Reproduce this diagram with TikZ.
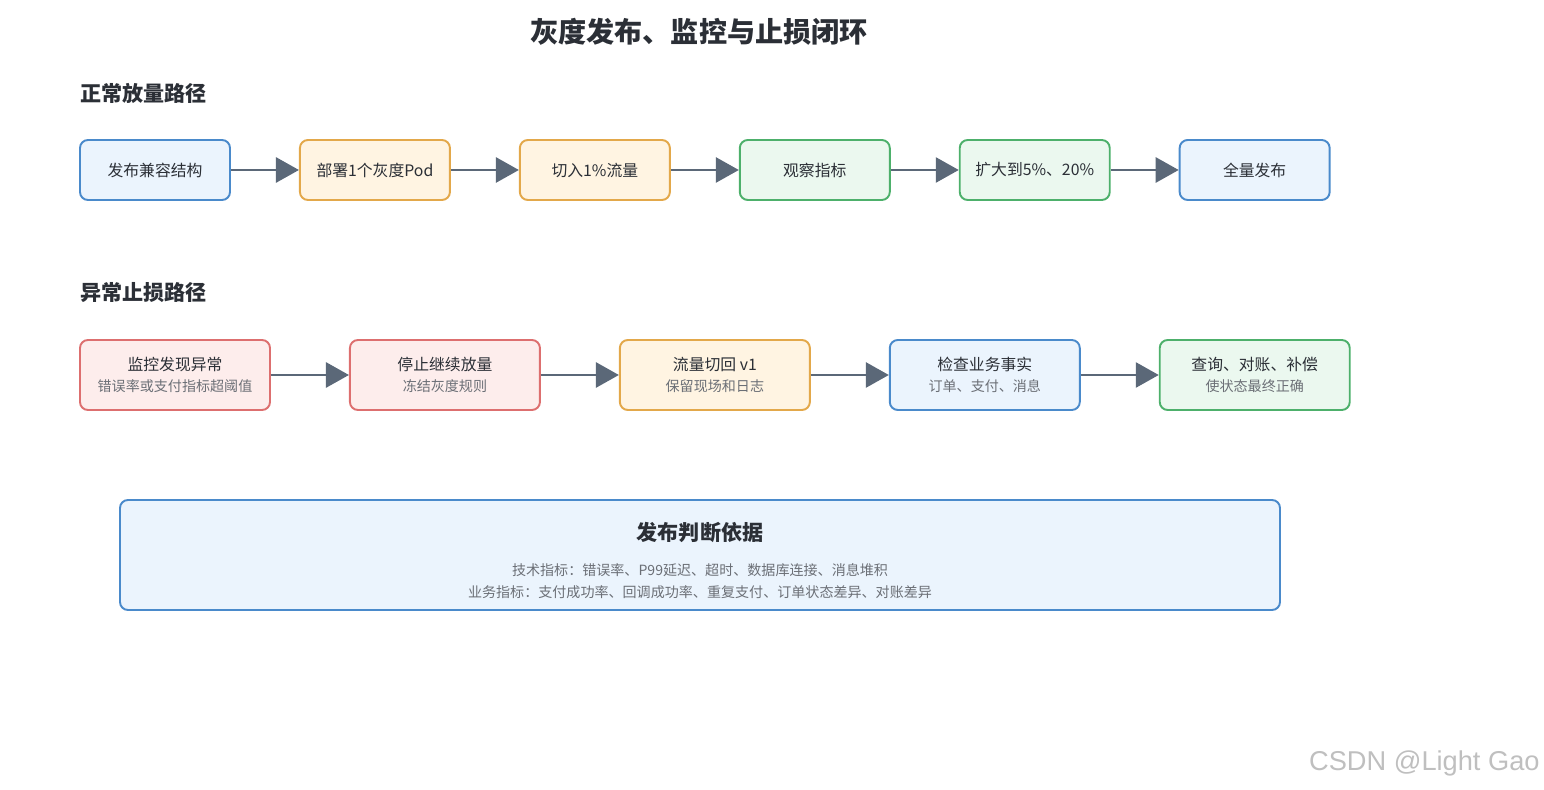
\documentclass[tikz,border=0pt]{standalone}
\usepackage{fontspec}
\setmainfont{Noto Sans CJK SC}
\newfontfamily\wmfont{Liberation Sans}
\usepackage{tikz}
\usetikzlibrary{positioning}
\usetikzlibrary{arrows.meta}
\definecolor{blueline}{HTML}{4A8ACB}
\definecolor{bluefill}{HTML}{EBF4FD}
\definecolor{orangeline}{HTML}{E3A84A}
\definecolor{orangefill}{HTML}{FFF4E2}
\definecolor{greenline}{HTML}{4DB06B}
\definecolor{greenfill}{HTML}{EBF8EF}
\definecolor{redline}{HTML}{DD6F6F}
\definecolor{redfill}{HTML}{FDEDEC}
\definecolor{arrowgray}{HTML}{5B6878}
\definecolor{textdark}{HTML}{2B2F36}
\definecolor{textsub}{HTML}{6B6F76}
\tikzset{
  blue box/.style={draw=blueline,fill=bluefill},
  orange box/.style={draw=orangeline,fill=orangefill},
  green box/.style={draw=greenline,fill=greenfill},
  red box/.style={draw=redline,fill=redfill},
  sub/.style={text=textsub,font=\fontsize{8}{10}\selectfont},
}
\newcommand{\twolines}[2]{#1\\[1pt]{\color{textsub}\fontsize{8}{9}\selectfont #2}}

\begin{document}
\begin{tikzpicture}[text=textdark]
	\useasboundingbox (0,0) rectangle (30.88,-15.8);

	% titles
	\node (title) at (13.98,-0.64) {\fontsize{16}{18}\selectfont\bfseries 灰度发布、监控与止损闭环};
	\node[anchor=west,inner sep=0] (normal) at (1.6,-1.86) {\fontsize{12}{14}\selectfont\bfseries 正常放量路径};
	\node[anchor=west,inner sep=0] (abnormal) at (1.6,-5.86) {\fontsize{12}{14}\selectfont\bfseries 异常止损路径};

	% normal path
	\begin{scope}[every node/.style={rectangle,rounded corners=0.16cm,line width=1.1pt,
	              minimum width=3cm, minimum height=1.2cm,
	              font=\fontsize{9}{11}\selectfont}, node distance=1.36cm]
	    \node[blue box] (deploy) at (3.1,-3.4) {发布兼容结构};
	    \node[orange box] (pod) [right=of deploy] {部署1个灰度Pod};
	    \node[orange box] (cut) [right=of pod] {切入1\%流量};
	    \node[green box] (watch) [right=of cut] {观察指标};
	    \node[green box] (expand) [right=of watch] {扩大到5\%、20\%};
	    \node[blue box] (full) [right=of expand] {全量发布};
	\end{scope}

	% abnormal path
	\begin{scope}[every node/.style={rectangle,rounded corners=0.16cm,line width=1.1pt,
	              minimum width=3.8cm, minimum height=1.4cm, align=center,
	              font=\fontsize{9}{11}\selectfont}, node distance=1.56cm]
	    \node[red box] (alarm) at (3.5,-7.5) {\twolines{监控发现异常}{错误率或支付指标超阈值}};
	    \node[red box] (stop) [right=of alarm] {\twolines{停止继续放量}{冻结灰度规则}};
	    \node[orange box] (back) [right=of stop] {\twolines{流量切回 v1}{保留现场和日志}};
	    \node[blue box] (check) [right=of back] {\twolines{检查业务事实}{订单、支付、消息}};
	    \node[green box] (fix) [right=of check] {\twolines{查询、对账、补偿}{使状态最终正确}};
	\end{scope}

	\begin{scope}[>={Triangle[length=0.46cm,width=0.5cm]},
	              every edge/.style={draw=arrowgray,line width=1.6pt}]
	    \path [->] (deploy) edge (pod);
	    \path [->] (pod) edge (cut);
	    \path [->] (cut) edge (watch);
	    \path [->] (watch) edge (expand);
	    \path [->] (expand) edge (full);
	    \path [->] (alarm) edge (stop);
	    \path [->] (stop) edge (back);
	    \path [->] (back) edge (check);
	    \path [->] (check) edge (fix);
	\end{scope}

	% decision basis
	\node[blue box,rectangle,rounded corners=0.16cm,line width=1.1pt,
	      minimum width=23.2cm,minimum height=2.2cm] (basis) at (14,-11.1) {};
	\node (basistitle) at (14,-10.66) {\fontsize{12}{14}\selectfont\bfseries 发布判断依据};
	\node[sub] (tech) at (14,-11.4) {技术指标：错误率、P99延迟、超时、数据库连接、消息堆积};
	\node[sub] (biz) at (14,-11.84) {业务指标：支付成功率、回调成功率、重复支付、订单状态差异、对账差异};

	\node[anchor=east,text=black!25,inner sep=0] (mark) at (30.8,-15.26) {\wmfont\fontsize{15.5}{18}\selectfont CSDN @Light Gao};
\end{tikzpicture}
\end{document}
